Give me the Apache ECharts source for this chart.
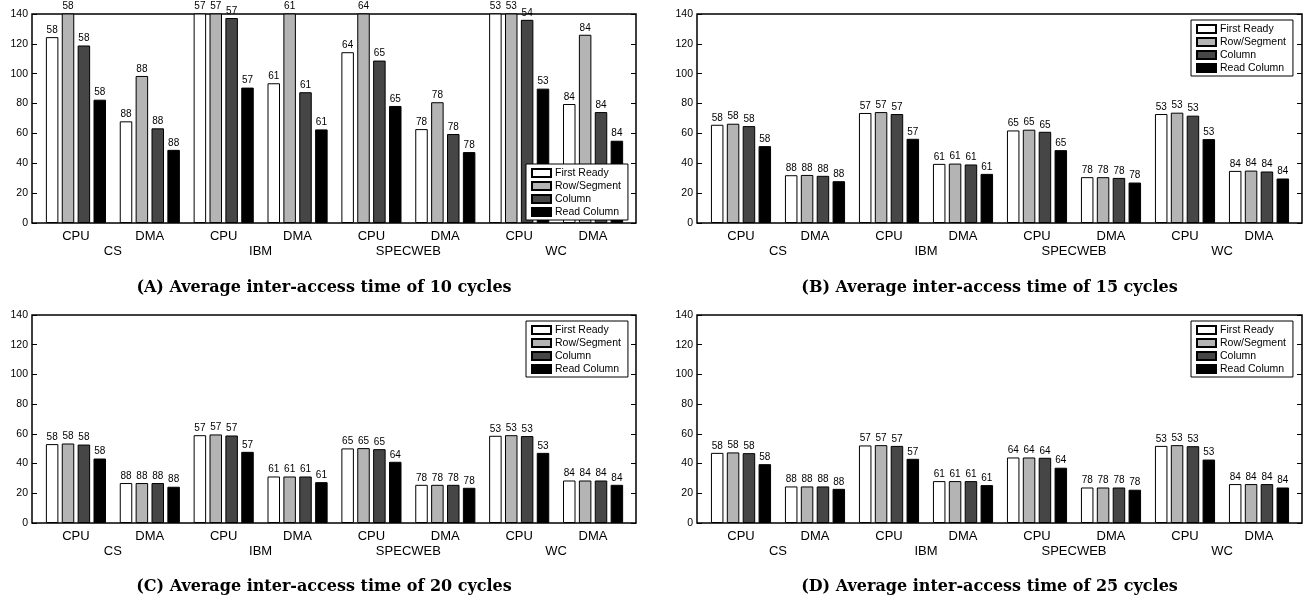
<!DOCTYPE html>
<html>
<head>
<meta charset="utf-8">
<style>
  html, body { margin: 0; padding: 0; background: #fff; }
  #main { width: 1309px; height: 605px; }
</style>
<script src="https://cdn.jsdelivr.net/npm/echarts@6/dist/echarts.min.js"></script>
</head>
<body>
<div id="main"></div>
<script>
// categories and tick settings
var categories = ['CPU', 'DMA', 'CPU', 'DMA', 'CPU', 'DMA', 'CPU', 'DMA'];
var workloads = ['CS', 'IBM', 'SPECWEB', 'WC'];
var seriesNames = ['First Ready', 'Row/Segment', 'Column', 'Read Column'];
var yMin = 0, yMax = 140, yStep = 20;

// bar heights, one row per scheme (First Ready, Row/Segment, Column, Read Column)
// bars that run off the top of panel A are clipped at 140
var time10 = [
  [124.5, 68.1, 150, 93.6, 114.4, 62.9, 150, 79.7],
  [150, 98.5, 150, 150, 150, 80.9, 150, 126.1],
  [118.9, 63.4, 137.3, 87.6, 108.8, 59.6, 136.1, 74.3],
  [82.6, 49.0, 90.7, 62.7, 78.4, 47.5, 90.0, 55.1]
];
var time15 = [
  [65.8, 32.0, 73.7, 39.6, 62.0, 30.7, 73.0, 34.9],
  [66.5, 32.2, 74.3, 39.8, 62.5, 30.7, 73.9, 35.1],
  [64.9, 31.6, 73.0, 39.2, 61.1, 30.2, 71.9, 34.5],
  [51.5, 28.0, 56.4, 32.9, 48.8, 27.1, 56.2, 29.8]
];
var time20 = [
  [53.1, 26.9, 59.1, 31.3, 50.2, 25.7, 58.7, 28.6],
  [53.5, 26.9, 59.6, 31.3, 50.4, 25.7, 59.1, 28.6],
  [52.8, 26.9, 58.9, 31.3, 49.7, 25.7, 58.5, 28.6],
  [43.4, 24.4, 47.9, 27.5, 41.2, 23.7, 47.2, 25.7]
];
var time25 = [
  [47.2, 24.6, 52.2, 28.2, 44.1, 23.9, 51.9, 26.2],
  [47.5, 24.6, 52.4, 28.2, 44.1, 23.9, 52.4, 26.2],
  [47.0, 24.6, 51.9, 28.2, 43.9, 23.9, 51.7, 26.2],
  [39.6, 23.0, 43.2, 25.5, 37.2, 22.4, 42.7, 23.9]
];

// numbers printed above each bar
var lbl10 = [
  [58, 88, 57, 61, 64, 78, 53, 84],
  [58, 88, 57, 61, 64, 78, 53, 84],
  [58, 88, 57, 61, 65, 78, 54, 84],
  [58, 88, 57, 61, 65, 78, 53, 84]
];
var lbl15 = [
  [58, 88, 57, 61, 65, 78, 53, 84],
  [58, 88, 57, 61, 65, 78, 53, 84],
  [58, 88, 57, 61, 65, 78, 53, 84],
  [58, 88, 57, 61, 65, 78, 53, 84]
];
var lbl20 = [
  [58, 88, 57, 61, 65, 78, 53, 84],
  [58, 88, 57, 61, 65, 78, 53, 84],
  [58, 88, 57, 61, 65, 78, 53, 84],
  [58, 88, 57, 61, 64, 78, 53, 84]
];
var lbl25 = [
  [58, 88, 57, 61, 64, 78, 53, 84],
  [58, 88, 57, 61, 64, 78, 53, 84],
  [58, 88, 57, 61, 64, 78, 53, 84],
  [58, 88, 57, 61, 64, 78, 53, 84]
];

var captions = [
  '(A) Average inter-access time of 10 cycles',
  '(B) Average inter-access time of 15 cycles',
  '(C) Average inter-access time of 20 cycles',
  '(D) Average inter-access time of 25 cycles'
];

var colors = ['#ffffff', '#b4b4b4', '#464646', '#000000'];

var panels = [
  { vals: time10, lbls: lbl10, left: 32,  top: 14,  width: 604, height: 209, legLeft: 526,  legTop: 164, capTop: 280 },
  { vals: time15, lbls: lbl15, left: 697, top: 14,  width: 605, height: 209, legLeft: 1191, legTop: 20,  capTop: 280 },
  { vals: time20, lbls: lbl20, left: 32,  top: 315, width: 604, height: 208, legLeft: 526,  legTop: 321, capTop: 579 },
  { vals: time25, lbls: lbl25, left: 697, top: 315, width: 605, height: 208, legLeft: 1191, legTop: 321, capTop: 579 }
];

var myChart = echarts.init(document.getElementById('main'));

var grid = [], xAxis = [], yAxis = [], series = [], legend = [], title = [];

panels.forEach(function (p, i) {
  // frame grid carrying the y ticks
  grid.push({
    left: p.left, top: p.top, width: p.width, height: p.height,
    show: true, borderColor: '#000', borderWidth: 1.5, backgroundColor: 'transparent'
  });
  // bar grid, slightly inset from the frame
  grid.push({
    left: p.left + 7, top: p.top, width: p.width - 13, height: p.height
  });

  xAxis.push({ gridIndex: 2 * i, type: 'value', show: false });
  xAxis.push({
    gridIndex: 2 * i + 1, type: 'category', data: categories,
    axisLine: { show: false }, axisTick: { show: false },
    axisLabel: { interval: 0, margin: 7, fontSize: 13, color: '#000' }
  });
  xAxis.push({
    gridIndex: 2 * i + 1, type: 'category', data: workloads, position: 'bottom', offset: 15,
    axisLine: { show: false }, axisTick: { show: false },
    axisLabel: { interval: 0, margin: 7, fontSize: 13, color: '#000' }
  });

  yAxis.push({
    gridIndex: 2 * i, type: 'value', min: yMin, max: yMax, interval: yStep,
    axisLine: { show: false }, splitLine: { show: false },
    axisTick: { show: true, inside: true, length: 5, lineStyle: { color: '#000' } },
    axisLabel: { margin: 4, fontSize: 10.5, color: '#000' }
  });
  yAxis.push({
    gridIndex: 2 * i, type: 'value', position: 'right', min: yMin, max: yMax, interval: yStep,
    axisLine: { show: false }, splitLine: { show: false }, axisLabel: { show: false },
    axisTick: { show: true, inside: true, length: 5, lineStyle: { color: '#000' } }
  });
  yAxis.push({ gridIndex: 2 * i + 1, type: 'value', min: yMin, max: yMax, show: false });

  seriesNames.forEach(function (name, s) {
    var labels = p.lbls[s];
    series.push({
      name: name,
      type: 'bar',
      xAxisIndex: 3 * i + 1,
      yAxisIndex: 3 * i + 2,
      barWidth: 12.5,
      barGap: '27%',
      clip: true,
      itemStyle: { color: colors[s], borderColor: '#000', borderWidth: 1 },
      label: {
        show: true, position: 'top', distance: 2, fontSize: 10, color: '#000',
        formatter: function (d) { return String(labels[d.dataIndex]); }
      },
      data: p.vals[s]
    });
  });

  legend.push({
    data: seriesNames,
    left: p.legLeft, top: p.legTop,
    orient: 'vertical',
    icon: 'rect',
    itemWidth: 19, itemHeight: 8, itemGap: 1,
    selectedMode: false,
    padding: [3, 7, 2, 5],
    borderColor: '#000', borderWidth: 1, borderRadius: 0,
    backgroundColor: '#fff',
    textStyle: { fontSize: 10.5, lineHeight: 12, color: '#000', padding: [0, 0, 0, -1] },
    z: 10
  });

  // caption is centred on the whole sub-figure, tick labels included
  title.push({
    text: captions[i],
    left: p.left - 10 + p.width / 2, top: p.capTop,
    textAlign: 'center', padding: 0,
    textStyle: { fontFamily: 'DejaVu Serif', fontWeight: 'bold', fontSize: 16, color: '#000' }
  });
});

var option = {
  animation: false,
  textStyle: { fontFamily: 'Liberation Sans' },
  title: title,
  legend: legend,
  grid: grid,
  xAxis: xAxis,
  yAxis: yAxis,
  series: series
};

myChart.setOption(option);
window.addEventListener('resize', function () {
  myChart.resize();
});
</script>
</body>
</html>
